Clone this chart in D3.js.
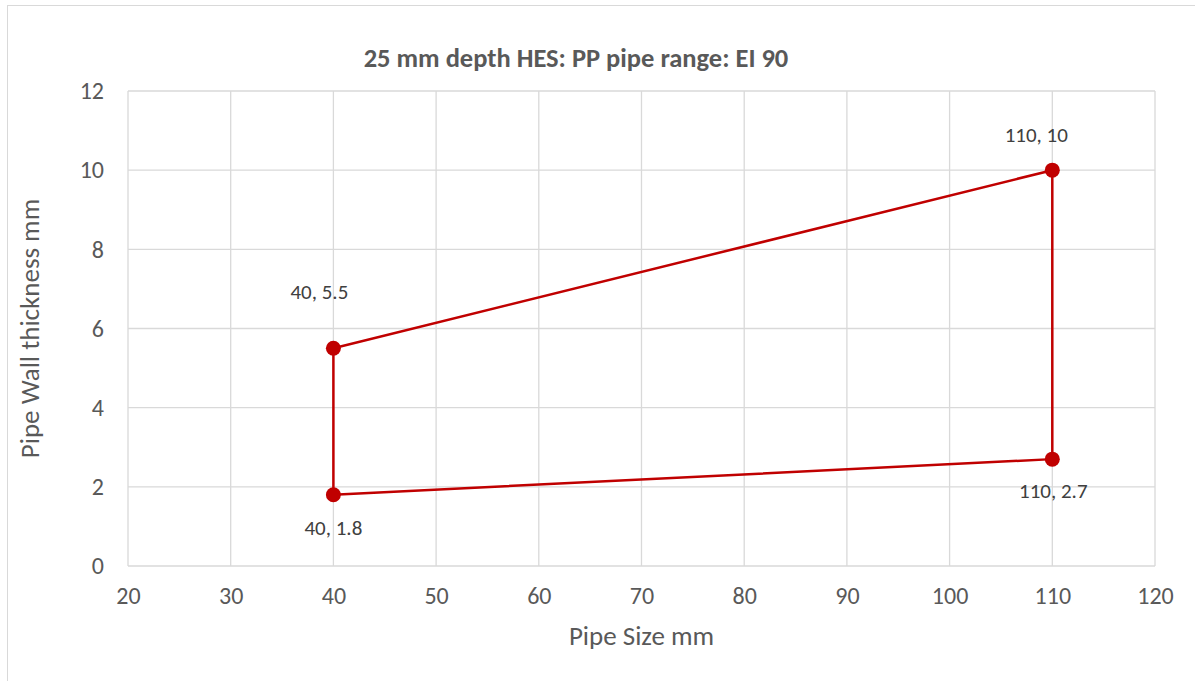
<!DOCTYPE html>
<html>
<head>
<meta charset="utf-8">
<script src="https://cdn.jsdelivr.net/npm/d3@7"></script>
<style>
  body { margin: 0; background: #fff; }
  text { font-family: Calibri, Carlito, "Open Sans", sans-serif; fill: #595959; }
</style>
</head>
<body>
<div id="chart"></div>
<script>
const width = 1195
const height = 681

const title = "25 mm depth HES: PP pipe range: EI 90"
const xTitle = "Pipe Size mm"
const yTitle = "Pipe Wall thickness mm"

// series, in drawing order (closed shape)
const pipeSize = [40, 110, 110, 40, 40]
const wallThickness = [5.5, 10, 2.7, 1.8, 5.5]

const xTicks = [20, 30, 40, 50, 60, 70, 80, 90, 100, 110, 120]
const yTicks = [0, 2, 4, 6, 8, 10, 12]

const red = "#c00000"
const grid = "#d9d9d9"

// label offsets (px) for the four data labels
const labelOffsets = [[-14, -49], [-16, -28], [1, 39], [0, 40]]

const margin = { top: 91, right: 40, bottom: 115, left: 128 }

const svg = d3.select("#chart")
  .append("svg")
  .attr("width", width)
  .attr("height", height)

// chart border
svg.append("rect")
  .attr("x", 7.5).attr("y", 5.5)
  .attr("width", width).attr("height", height)
  .attr("fill", "none")
  .attr("stroke", grid)
  .attr("stroke-width", 1)

const x = d3.scaleLinear().domain([20, 120]).range([margin.left, width - margin.right])
const y = d3.scaleLinear().domain([0, 12]).range([height - margin.bottom, margin.top])

// gridlines
svg.append("g")
  .selectAll("line")
  .data(xTicks)
  .join("line")
  .attr("x1", d => x(d)).attr("x2", d => x(d))
  .attr("y1", y(0)).attr("y2", y(12))
  .attr("stroke", grid).attr("stroke-width", 1.3)

svg.append("g")
  .selectAll("line")
  .data(yTicks)
  .join("line")
  .attr("x1", x(20)).attr("x2", x(120))
  .attr("y1", d => y(d)).attr("y2", d => y(d))
  .attr("stroke", grid).attr("stroke-width", 1.3)

// axes (labels only)
const xAxis = svg.append("g")
  .attr("transform", `translate(0,${y(0)})`)
  .call(d3.axisBottom(x).tickValues(xTicks).tickSize(0).tickPadding(21))
xAxis.select(".domain").remove()
xAxis.selectAll("text").attr("font-size", 24).attr("fill", "#595959")

const yAxis = svg.append("g")
  .attr("transform", `translate(${x(20)},0)`)
  .call(d3.axisLeft(y).tickValues(yTicks).tickSize(0).tickPadding(24))
yAxis.select(".domain").remove()
yAxis.selectAll("text").attr("font-size", 24).attr("fill", "#595959")
svg.selectAll(".tick text").style("font-family", 'Calibri, Carlito, "Open Sans", sans-serif')

// series line
const points = pipeSize.map((v, i) => [v, wallThickness[i]])
const line = d3.line().x(d => x(d[0])).y(d => y(d[1]))

svg.append("path")
  .datum(points)
  .attr("d", line)
  .attr("fill", "none")
  .attr("stroke", red)
  .attr("stroke-width", 2.5)
  .attr("stroke-linejoin", "round")

const uniq = points.slice(0, 4)

svg.append("g")
  .selectAll("circle")
  .data(uniq)
  .join("circle")
  .attr("cx", d => x(d[0]))
  .attr("cy", d => y(d[1]))
  .attr("r", 7.5)
  .attr("fill", red)

svg.append("g")
  .selectAll("text")
  .data(uniq)
  .join("text")
  .attr("x", (d, i) => x(d[0]) + labelOffsets[i][0])
  .attr("y", (d, i) => y(d[1]) + labelOffsets[i][1])
  .attr("text-anchor", "middle")
  .attr("font-size", 21)
  .style("fill", "#404040")
  .text(d => `${d[0]}, ${d[1]}`)

// titles
svg.append("text")
  .attr("x", 576).attr("y", 67)
  .attr("text-anchor", "middle")
  .attr("font-size", 26.5)
  .attr("font-weight", "bold")
  .text(title)

svg.append("text")
  .attr("x", x(70)).attr("y", 645)
  .attr("text-anchor", "middle")
  .attr("font-size", 27)
  .text(xTitle)

svg.append("text")
  .attr("transform", `translate(39,${y(6)}) rotate(-90)`)
  .attr("text-anchor", "middle")
  .attr("font-size", 27)
  .text(yTitle)
</script>
</body>
</html>
